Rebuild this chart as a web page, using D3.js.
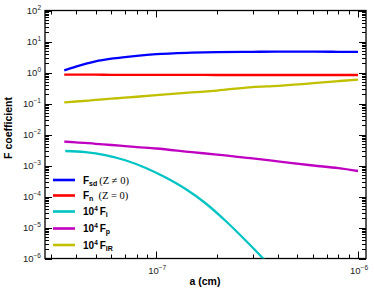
<!DOCTYPE html>
<html><head><meta charset="utf-8">
<script src="https://cdn.jsdelivr.net/npm/d3@7"></script>
<style>body{margin:0;background:#fff}svg{display:block}</style>
</head><body>
<svg id="c" width="374" height="293"></svg>
<script>
// ---- data ----
const aGrid = [3.5e-8, 4e-8, 5e-8, 6e-8, 7e-8, 8e-8, 1e-7, 1.5e-7, 2e-7, 3e-7, 4e-7, 6e-7, 8e-7, 1e-6];
const Fsd = [1.17, 1.55, 2.3, 2.8, 3.15, 3.45, 3.9, 4.35, 4.55, 4.65, 4.7, 4.7, 4.65, 4.6];
const Fn  = [0.85, 0.85, 0.85, 0.84, 0.84, 0.84, 0.84, 0.84, 0.83, 0.83, 0.83, 0.83, 0.83, 0.83];
const Fp  = [0.0059, 0.0056, 0.0050, 0.00458, 0.00421, 0.00393, 0.00353, 0.00269, 0.00226, 0.00169, 0.00136, 0.00100, 0.00082, 0.000665];
const FIR = [0.109, 0.116, 0.130, 0.143, 0.154, 0.165, 0.185, 0.227, 0.262, 0.339, 0.372, 0.456, 0.527, 0.59];
const aIon = [3.54e-8, 4.45e-8, 5.59e-8, 7.02e-8, 8.82e-8, 1.108e-7, 1.392e-7, 1.748e-7, 2.196e-7, 2.758e-7, 3.464e-7];
const Fi   = [2.94e-3, 2.72e-3, 2.18e-3, 1.48e-3, 8.49e-4, 4.16e-4, 1.77e-4, 6.17e-5, 1.68e-5, 3.95e-6, 8.6e-7];
const yTickExp = [-6, -5, -4, -3, -2, -1, 0, 1, 2];
const xTickExp = [-7, -6];
const seriesNames = ["Fsd", "Fn", "Fi", "Fp", "FIR"];
const colors = ["#0000ff", "#ff0000", "#00c4c4", "#c000c0", "#c0c000"];

// ---- layout ----
const L = 45, R = 366, T = 10.5, B = 258.5;
const svg = d3.select("#c");
const x = d3.scaleLog().domain([2.81e-8, 1.095e-6]).range([L, R]);
const y = d3.scaleLog().domain([1e-6, 1e2]).range([B, T]);

svg.append("clipPath").attr("id", "clip").append("rect")
  .attr("x", L).attr("y", T).attr("width", R - L).attr("height", B - T);

// ticks
function minorVals(lo, hi) {
  const out = [];
  for (let e = -9; e <= 3; e++) for (let m = 1; m <= 9; m++) {
    const v = m * Math.pow(10, e);
    if (v >= lo * 0.999 && v <= hi * 1.001) out.push(v);
  }
  return out;
}
const xd = x.domain(), yd = y.domain();
const g = svg.append("g").attr("stroke", "#000").attr("stroke-width", 1);
minorVals(xd[0], xd[1]).forEach(v => {
  const major = Math.abs(Math.log10(v) - Math.round(Math.log10(v))) < 1e-6;
  const len = major ? 7 : 4;
  const px = Math.round(x(v)) + 0.5;
  g.append("line").attr("x1", px).attr("x2", px).attr("y1", B).attr("y2", B - len);
  g.append("line").attr("x1", px).attr("x2", px).attr("y1", T).attr("y2", T + len);
});
minorVals(yd[0], yd[1]).forEach(v => {
  const major = Math.abs(Math.log10(v) - Math.round(Math.log10(v))) < 1e-6;
  const len = major ? 7 : 4;
  const py = Math.round(y(v)) + 0.5;
  g.append("line").attr("x1", L).attr("x2", L + len).attr("y1", py).attr("y2", py);
  g.append("line").attr("x1", R).attr("x2", R - len).attr("y1", py).attr("y2", py);
});
svg.append("rect").attr("x", L).attr("y", T).attr("width", R - L).attr("height", B - T)
  .attr("fill", "none").attr("stroke", "#000").attr("stroke-width", 1.3);

// tick labels
const fnt = "'Liberation Sans', Arial, sans-serif";
yTickExp.forEach(e => {
  const t = svg.append("text").attr("x", L - 4).attr("y", y(Math.pow(10, e)) + 3.5)
    .attr("text-anchor", "end").attr("font-family", fnt).attr("font-size", 9.5).attr("fill", "#222");
  t.append("tspan").text("10");
  t.append("tspan").attr("dy", -4).attr("font-size", 6.5).text(e < 0 ? "\u2212" + (-e) : String(e));
});
xTickExp.forEach(e => {
  const t = svg.append("text").attr("x", x(Math.pow(10, e)) + 1).attr("y", B + 15)
    .attr("text-anchor", "middle").attr("font-family", fnt).attr("font-size", 9.5).attr("fill", "#222");
  t.append("tspan").text("10");
  t.append("tspan").attr("dy", -4).attr("font-size", 6.5).text("\u2212" + (-e));
});

// axis titles
svg.append("text").attr("x", 205).attr("y", 285).attr("text-anchor", "middle")
  .attr("font-family", fnt).attr("font-weight", "bold").attr("font-size", 10.5).text("a (cm)");
svg.append("text").attr("transform", "translate(12,128) rotate(-90)").attr("text-anchor", "middle")
  .attr("font-family", fnt).attr("font-weight", "bold").attr("font-size", 10.5).text("F coefficient");

// curves
const line = d3.line().x(d => x(d[0])).y(d => y(d[1])).curve(d3.curveMonotoneX);
const seriesData = [
  aGrid.map((a, i) => [a, Fsd[i]]),
  aGrid.map((a, i) => [a, Fn[i]]),
  aIon.map((a, i) => [a, Fi[i]]),
  aGrid.map((a, i) => [a, Fp[i]]),
  aGrid.map((a, i) => [a, FIR[i]])
];
const plot = svg.append("g").attr("clip-path", "url(#clip)");
seriesData.forEach((d, i) => {
  plot.append("path").attr("d", line(d)).attr("fill", "none")
    .attr("stroke", colors[i]).attr("stroke-width", 2.3);
});

// legend
const legY = [180, 195.5, 211.5, 228.5, 245];
const serif = "'Liberation Serif', 'Times New Roman', serif";
const legend = svg.append("g");
seriesNames.forEach((n, i) => {
  legend.append("line").attr("x1", 53).attr("x2", 75).attr("y1", legY[i]).attr("y2", legY[i])
    .attr("stroke", colors[i]).attr("stroke-width", 2.6);
  const t = legend.append("text").attr("x", 83).attr("y", legY[i] + 3.5)
    .attr("font-family", fnt).attr("font-weight", "bold").attr("font-size", 10);
  if (i === 0) {
    t.append("tspan").text("F");
    t.append("tspan").attr("dy", 2).attr("font-size", 7).text("sd");
    t.append("tspan").attr("dy", -2).attr("dx", 2).attr("font-family", serif).attr("font-weight", "normal").attr("font-size", 10.5).text("(Z \u2260 0)");
  } else if (i === 1) {
    t.append("tspan").text("F");
    t.append("tspan").attr("dy", 2).attr("font-size", 7).text("n");
    t.append("tspan").attr("dy", -2).attr("dx", 5).attr("font-family", serif).attr("font-weight", "normal").attr("font-size", 10.5).text("(Z = 0)");
  } else {
    const sub = ["", "", "i", "p", "IR"][i];
    t.append("tspan").text("10");
    t.append("tspan").attr("dy", -4).attr("font-size", 6.5).text("4");
    t.append("tspan").attr("dy", 4).attr("dx", 2).text("F");
    t.append("tspan").attr("dy", 2).attr("font-size", 7).text(sub);
  }
});
</script>
</body></html>
